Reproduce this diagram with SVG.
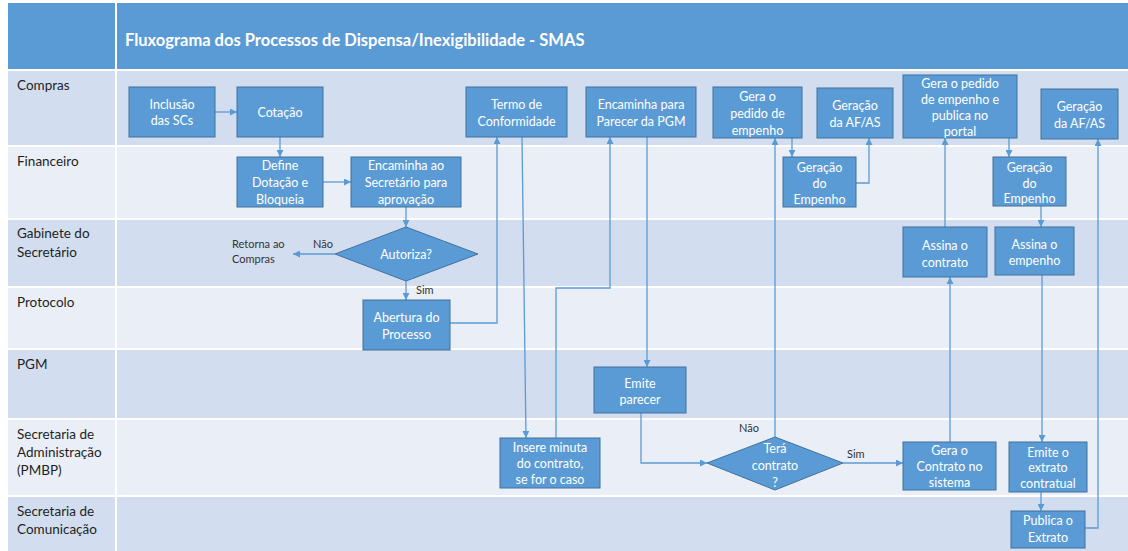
<svg xmlns="http://www.w3.org/2000/svg" width="1128" height="551" viewBox="0 0 1128 551">
<style>
.hdr{fill:#5b9bd5}
.ld{fill:#d2deef}
.ll{fill:#eaeff7}
.title{font-family:Lato,"Liberation Sans",sans-serif;font-size:16.5px;font-weight:bold;fill:#ffffff}
.lbl{font-family:Lato,"Liberation Sans",sans-serif;font-size:13.5px;fill:#1f1f1f;dominant-baseline:central}
.node rect,.node polygon{fill:#5b9bd5;stroke:#41719c;stroke-width:1}
.node text{font-family:Lato,"Liberation Sans",sans-serif;font-size:12.5px;fill:#ffffff;text-anchor:middle;dominant-baseline:central}
.conn path{fill:none;stroke:#5b9bd5;stroke-width:1.3}
.note{font-family:Lato,"Liberation Sans",sans-serif;font-size:11px;fill:#333333;dominant-baseline:central}
</style>
<defs>
<marker id="arr" markerUnits="userSpaceOnUse" markerWidth="7" markerHeight="7" refX="7" refY="3.5" orient="auto">
<path d="M0,0 L7,3.5 L0,7 z" fill="#5b9bd5"/>
</marker>
</defs>
<rect width="1128" height="551" fill="#ffffff"/>
<g id="lanes">
<rect class="hdr" x="8" y="3" width="107" height="66"/>
<rect class="hdr" x="117" y="3" width="1011" height="66"/>
<rect class="ld" x="8" y="71" width="107" height="74"/>
<rect class="ld" x="117" y="71" width="1011" height="74"/>
<rect class="ll" x="8" y="147" width="107" height="71"/>
<rect class="ll" x="117" y="147" width="1011" height="71"/>
<rect class="ld" x="8" y="220" width="107" height="66"/>
<rect class="ld" x="117" y="220" width="1011" height="66"/>
<rect class="ll" x="8" y="288" width="107" height="60"/>
<rect class="ll" x="117" y="288" width="1011" height="60"/>
<rect class="ld" x="8" y="350" width="107" height="68"/>
<rect class="ld" x="117" y="350" width="1011" height="68"/>
<rect class="ll" x="8" y="420" width="107" height="75"/>
<rect class="ll" x="117" y="420" width="1011" height="75"/>
<rect class="ld" x="8" y="497" width="107" height="54"/>
<rect class="ld" x="117" y="497" width="1011" height="54"/>
<text class="title" x="125" y="46">Fluxograma dos Processos de Dispensa/Inexigibilidade - SMAS</text>
<text class="lbl" x="17" y="85">Compras</text>
<text class="lbl" x="17" y="161">Financeiro</text>
<text class="lbl" x="17" y="233">Gabinete do</text>
<text class="lbl" x="17" y="252">Secretário</text>
<text class="lbl" x="17" y="302">Protocolo</text>
<text class="lbl" x="17" y="364">PGM</text>
<text class="lbl" x="17" y="434">Secretaria de</text>
<text class="lbl" x="17" y="452">Administração</text>
<text class="lbl" x="17" y="470">(PMBP)</text>
<text class="lbl" x="17" y="511">Secretaria de</text>
<text class="lbl" x="17" y="529">Comunicação</text>
</g>
<g id="connectors" class="conn">
<path d="M215,112 H237" marker-end="url(#arr)"/>
<path d="M280,137 V157" marker-end="url(#arr)"/>
<path d="M323,182 H351" marker-end="url(#arr)"/>
<path d="M406,207 V227" marker-end="url(#arr)"/>
<path d="M335,254 H293" marker-end="url(#arr)"/>
<path d="M406,281 V300" marker-end="url(#arr)"/>
<path d="M450,323 H497 V137" marker-end="url(#arr)"/>
<path d="M522,137 L526,438" marker-end="url(#arr)"/>
<path d="M556,438 V288 H610 V137" marker-end="url(#arr)"/>
<path d="M647,137 V367" marker-end="url(#arr)"/>
<path d="M641,413 V463 H707" marker-end="url(#arr)"/>
<path d="M775,437 V138" marker-end="url(#arr)"/>
<path d="M843,463 H903" marker-end="url(#arr)"/>
<path d="M792,138 V157" marker-end="url(#arr)"/>
<path d="M856,183 H869 V138" marker-end="url(#arr)"/>
<path d="M950,442 V277" marker-end="url(#arr)"/>
<path d="M945,227 V138" marker-end="url(#arr)"/>
<path d="M1009,138 V157" marker-end="url(#arr)"/>
<path d="M1041,206 V227" marker-end="url(#arr)"/>
<path d="M1042,275 V442" marker-end="url(#arr)"/>
<path d="M1041,492 V511" marker-end="url(#arr)"/>
<path d="M1085,528 H1098 V139" marker-end="url(#arr)"/>
<text class="note" x="232" y="243">Retorna ao</text>
<text class="note" x="232" y="258">Compras</text>
<text class="note" x="313" y="243">Não</text>
<text class="note" x="416" y="289">Sim</text>
<text class="note" x="739" y="427">Não</text>
<text class="note" x="847" y="453">Sim</text>
</g>
<g id="n1" class="node"><rect x="129" y="87" width="86" height="50"/><text x="172" y="104">Inclusão</text><text x="172" y="120">das SCs</text></g>
<g id="n2" class="node"><rect x="237" y="87" width="86" height="50"/><text x="280" y="112">Cotação</text></g>
<g id="n3" class="node"><rect x="237" y="157" width="86" height="50"/><text x="280" y="165">Define</text><text x="280" y="182">Dotação e</text><text x="280" y="199">Bloqueia</text></g>
<g id="n4" class="node"><rect x="351" y="157" width="110" height="50"/><text x="406" y="165">Encaminha ao</text><text x="406" y="182">Secretário para</text><text x="406" y="199">aprovação</text></g>
<g id="n5" class="node"><polygon points="335,254 406,227 478,254 406,281"/><text x="406" y="254">Autoriza?</text></g>
<g id="n6" class="node"><rect x="363" y="300" width="87" height="50"/><text x="406.5" y="317">Abertura do</text><text x="406.5" y="334">Processo</text></g>
<g id="n7" class="node"><rect x="466" y="87" width="101" height="50"/><text x="516.5" y="104">Termo de</text><text x="516.5" y="121">Conformidade</text></g>
<g id="n8" class="node"><rect x="586" y="87" width="110" height="50"/><text x="641" y="104">Encaminha para</text><text x="641" y="121">Parecer da PGM</text></g>
<g id="n9" class="node"><rect x="713" y="87" width="89" height="51"/><text x="757.5" y="96">Gera o</text><text x="757.5" y="113">pedido de</text><text x="757.5" y="130">empenho</text></g>
<g id="n10" class="node"><rect x="817" y="88" width="76" height="50"/><text x="855" y="105">Geração</text><text x="855" y="122">da AF/AS</text></g>
<g id="n11" class="node"><rect x="783" y="157" width="73" height="50"/><text x="819.5" y="167">Geração</text><text x="819.5" y="183">do</text><text x="819.5" y="199">Empenho</text></g>
<g id="n12" class="node"><rect x="903" y="75" width="114" height="63"/><text x="960" y="83">Gera o pedido</text><text x="960" y="99">de empenho e</text><text x="960" y="115">publica no</text><text x="960" y="131">portal</text></g>
<g id="n13" class="node"><rect x="1041" y="89" width="77" height="50"/><text x="1079.5" y="106">Geração</text><text x="1079.5" y="123">da AF/AS</text></g>
<g id="n14" class="node"><rect x="993" y="157" width="73" height="49"/><text x="1029.5" y="167">Geração</text><text x="1029.5" y="183">do</text><text x="1029.5" y="198">Empenho</text></g>
<g id="n15" class="node"><rect x="903" y="227" width="84" height="50"/><text x="945" y="245">Assina o</text><text x="945" y="262">contrato</text></g>
<g id="n16" class="node"><rect x="995" y="227" width="79" height="48"/><text x="1034.5" y="244">Assina o</text><text x="1034.5" y="260">empenho</text></g>
<g id="n17" class="node"><rect x="594" y="367" width="92" height="46"/><text x="640" y="383">Emite</text><text x="640" y="399">parecer</text></g>
<g id="n18" class="node"><rect x="500" y="438" width="100" height="50"/><text x="550" y="447">Insere minuta</text><text x="550" y="463">do contrato,</text><text x="550" y="479">se for o caso</text></g>
<g id="n19" class="node"><polygon points="707,463 775,437 843,463 775,490"/><text x="775" y="448">Terá</text><text x="775" y="465">contrato</text><text x="775" y="482">?</text></g>
<g id="n20" class="node"><rect x="903" y="442" width="93" height="48"/><text x="949.5" y="450">Gera o</text><text x="949.5" y="466">Contrato no</text><text x="949.5" y="482">sistema</text></g>
<g id="n21" class="node"><rect x="1009" y="442" width="78" height="50"/><text x="1048" y="452">Emite o</text><text x="1048" y="467">extrato</text><text x="1048" y="483">contratual</text></g>
<g id="n22" class="node"><rect x="1011" y="511" width="74" height="37"/><text x="1048" y="520">Publica o</text><text x="1048" y="537">Extrato</text></g>
</svg>
